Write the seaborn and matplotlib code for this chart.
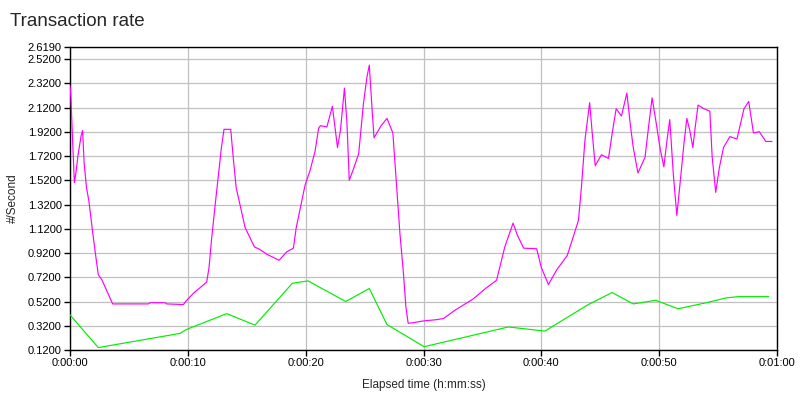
import matplotlib
matplotlib.use("Agg")
import matplotlib.pyplot as plt
import seaborn as sns
import pandas as pd

# Magenta series (seconds, #/Second)
mag_t = [0, 0.08, 0.2, 0.37, 0.5, 0.7, 0.95, 1.07, 1.2, 1.4, 1.6, 1.9, 2.15, 2.4, 2.7,
         3.62, 6.65, 6.8, 8.1, 8.2, 9.62, 9.9, 10.5, 11.6, 11.8, 12.0, 12.3, 12.6, 12.85,
         13.07, 13.64, 13.85, 14.1, 14.4, 14.86, 15.65, 16.1, 16.7, 17.74, 18.4, 18.96,
         19.2, 19.5, 19.95, 20.37, 20.8, 21.1, 21.25, 21.8, 22.27, 22.5, 22.7, 22.95,
         23.29, 23.5, 23.7, 24.05, 24.5, 24.9, 25.2, 25.4, 25.6, 25.8, 26.4, 26.9, 27.4,
         27.7, 28.0, 28.3, 28.5, 28.7, 29.1, 30.0, 31.1, 31.7, 32.7, 34.2, 35.3, 36.2,
         36.9, 37.6, 38.0, 38.5, 39.6, 40.0, 40.6, 41.3, 42.2, 42.6, 43.15, 43.4, 43.7,
         44.1, 44.3, 44.57, 45.1, 45.7, 46.0, 46.35, 46.8, 47.26, 47.55, 47.8, 48.2,
         48.8, 49.1, 49.4, 49.75, 50.1, 50.4, 50.65, 50.9, 51.2, 51.5, 51.8, 52.1,
         52.35, 52.6, 52.86, 53.05, 53.3, 53.8, 54.3, 54.5, 54.8, 55.1, 55.46, 56.0,
         56.6, 57.2, 57.6, 58.0, 58.5, 59.05, 59.57]
mag_v = [2.30, 2.20, 1.90, 1.50, 1.58, 1.74, 1.89, 1.93, 1.66, 1.46, 1.35, 1.11, 0.92, 0.74, 0.70,
         0.50, 0.50, 0.51, 0.51, 0.50, 0.495, 0.53, 0.59, 0.68, 0.80, 1.02, 1.30, 1.57, 1.79,
         1.94, 1.94, 1.71, 1.46, 1.33, 1.13, 0.97, 0.95, 0.91, 0.86, 0.93, 0.96,
         1.13, 1.27, 1.48, 1.60, 1.76, 1.95, 1.97, 1.96, 2.13, 1.95, 1.79, 1.93,
         2.28, 2.00, 1.52, 1.61, 1.74, 2.15, 2.37, 2.47, 2.16, 1.87, 1.97, 2.03, 1.91,
         1.49, 1.08, 0.75, 0.48, 0.34, 0.345, 0.36, 0.37, 0.38, 0.45, 0.54, 0.63, 0.695,
         0.97, 1.166, 1.06, 0.96, 0.955, 0.80, 0.66, 0.78, 0.90, 1.02, 1.19, 1.46, 1.85,
         2.16, 1.93, 1.64, 1.73, 1.70, 1.90, 2.11, 2.05, 2.24, 1.98, 1.79, 1.58,
         1.71, 1.96, 2.20, 1.99, 1.77, 1.63, 1.84, 2.02, 1.57, 1.23, 1.52, 1.82,
         2.03, 1.93, 1.79, 1.95, 2.14, 2.11, 2.09, 1.71, 1.42, 1.62, 1.79, 1.88,
         1.86, 2.11, 2.17, 1.91, 1.92, 1.84, 1.84]

# Green series
grn_t = [0, 2.4, 9.34, 9.9, 13.3, 15.7, 18.87, 20.2, 23.4, 25.4, 26.9, 30.05, 37.2, 40.3,
         43.9, 46.0, 47.8, 49.7, 51.6, 54.0, 55.7, 56.7, 59.3]
grn_v = [0.41, 0.14, 0.257, 0.29, 0.42, 0.325, 0.67, 0.69, 0.52, 0.627, 0.33, 0.147, 0.31, 0.276,
         0.49, 0.594, 0.50, 0.53, 0.46, 0.51, 0.55, 0.56, 0.56]

y_ticks = [0.12, 0.32, 0.52, 0.72, 0.92, 1.12, 1.32, 1.52, 1.72, 1.92, 2.12, 2.32, 2.52, 2.619]
x_ticks = [0, 10, 20, 30, 40, 50, 60]
x_labels = ["0:00:00", "0:00:10", "0:00:20", "0:00:30", "0:00:40", "0:00:50", "0:01:00"]

sns.set_style("white")
plt.rcParams['font.family'] = ['Liberation Sans', 'DejaVu Sans']

fig = plt.figure(figsize=(8, 4), dpi=100)
ax = fig.add_axes([70/800, 50/400, 707/800, 303/400])

df_m = pd.DataFrame({"t": mag_t, "v": mag_v})
df_g = pd.DataFrame({"t": grn_t, "v": grn_v})
sns.lineplot(data=df_m, x="t", y="v", ax=ax, color="#FF00FF", linewidth=0.85,
             estimator=None, sort=False, zorder=3)
sns.lineplot(data=df_g, x="t", y="v", ax=ax, color="#00EE00", linewidth=0.85,
             estimator=None, sort=False, zorder=3)

ax.set_xlim(0, 60)
ax.set_ylim(0.12, 2.619)
ax.set_xticks(x_ticks)
ax.set_xticklabels(x_labels)
ax.set_yticks(y_ticks)
ax.set_yticklabels([f"{v:.4f}" for v in y_ticks])
ax.grid(True, color="#C0C0C0", linewidth=0.9, zorder=0)
ax.set_axisbelow(True)
for s in ax.spines.values():
    s.set_color("black")
    s.set_linewidth(1.0)
ax.tick_params(axis="both", direction="out", length=4, width=1, color="black",
               labelsize=8, labelcolor="black", pad=2, left=True, bottom=True)
ax.set_xlabel("Elapsed time (h:mm:ss)", fontsize=8.5, labelpad=8)
ax.set_ylabel("#/Second", fontsize=8.5, labelpad=6)
fig.text(10/800, 1 - 22/400, "Transaction rate", fontsize=13.5, ha="left", va="center")

fig.savefig("out.png", dpi=100)
